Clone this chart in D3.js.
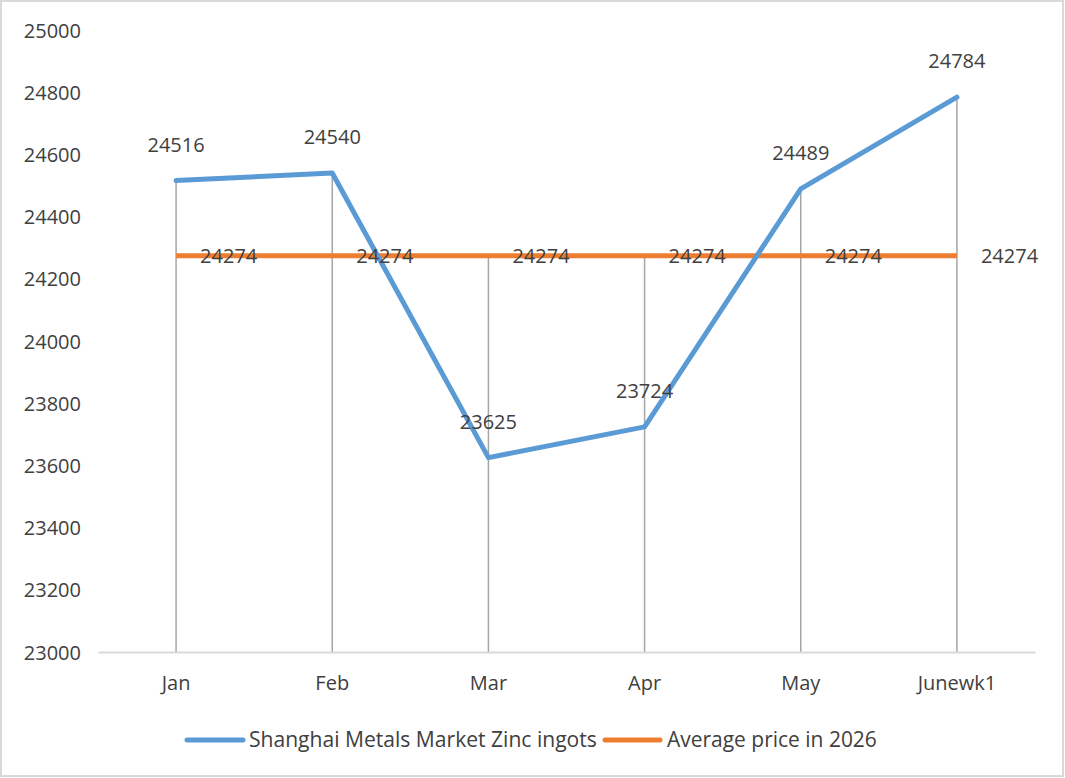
<!DOCTYPE html>
<html><head><meta charset="utf-8">
<script src="https://cdn.jsdelivr.net/npm/d3@7"></script>
<style>body{margin:0;background:#fff}svg{display:block}text{font-family:"Open Sans",sans-serif;fill:#404040}</style>
</head><body>
<svg id="c" width="1065" height="778"></svg>
<script>
const categories = ["Jan","Feb","Mar","Apr","May","Junewk1"];
const zincValues = [24516,24540,23625,23724,24489,24784];
const averageValues = [24274,24274,24274,24274,24274,24274];
const yTicks = [23000,23200,23400,23600,23800,24000,24200,24400,24600,24800,25000];
const seriesNames = ["Shanghai Metals Market Zinc ingots","Average price in 2026"];
const colors = ["#5B9BD5","#ED7D31"];

const svg = d3.select("#c");
svg.append("rect").attr("x",1).attr("y",1).attr("width",1062).attr("height",775)
  .attr("fill","#fff").attr("stroke","#D9D9D9").attr("stroke-width",2);

const x = d3.scaleBand().domain(categories).range([98,1035]);
const y = d3.scaleLinear().domain([23000,25000]).range([652,30]);
const cx = d => x(d) + x.bandwidth()/2;

// y axis labels
const yAxis = d3.axisLeft(y).tickValues(yTicks).tickSize(0).tickPadding(0).tickFormat(d3.format("d"));
const ya = svg.append("g").attr("transform","translate(81,0)").call(yAxis);
ya.select(".domain").remove();
ya.selectAll("text").attr("font-size",20).style("font-family",'"Open Sans",sans-serif').attr("fill","#595959").attr("dy","0.35em");

// drop lines
svg.append("g").selectAll("line").data(categories).join("line")
  .attr("x1",cx).attr("x2",cx)
  .attr("y1",(d,i)=>y(Math.max(zincValues[i],averageValues[i])))
  .attr("y2",y(23000))
  .attr("stroke","#A5A5A5").attr("stroke-width",1.5);

// x axis
const xAxis = d3.axisBottom(x).tickSize(0).tickPadding(0);
const xa = svg.append("g").attr("transform",`translate(0,${y(23000)})`).call(xAxis);
xa.select(".domain").attr("stroke","#D9D9D9").attr("stroke-width",2);
xa.selectAll("text").attr("font-size",20).style("font-family",'"Open Sans",sans-serif').attr("fill","#595959").attr("y",31).attr("dy","0.35em");

const line = d3.line().x((d,i)=>cx(categories[i])).y(d=>y(d));
svg.append("path").datum(averageValues).attr("d",line).attr("fill","none")
  .attr("stroke",colors[1]).attr("stroke-width",5);
svg.append("path").datum(zincValues).attr("d",line).attr("fill","none")
  .attr("stroke",colors[0]).attr("stroke-width",5).attr("stroke-linejoin","round").attr("stroke-linecap","round");

// labels
svg.append("g").selectAll("text").data(zincValues).join("text")
  .attr("x",(d,i)=>cx(categories[i])).attr("y",d=>y(d)-36)
  .attr("text-anchor","middle").attr("dy","0.35em").attr("font-size",20).text(d=>d);
svg.append("g").selectAll("text").data(averageValues).join("text")
  .attr("x",(d,i)=>cx(categories[i])+24).attr("y",d=>y(d))
  .attr("dy","0.35em").attr("font-size",20).text(d=>d);

// legend
const lg = svg.append("g");
const legendItems = [{x1:187,x2:243,tx:249,tw:348},{x1:605,x2:660,tx:667,tw:210}];
legendItems.forEach((it,i)=>{
  lg.append("line").attr("x1",it.x1).attr("x2",it.x2).attr("y1",740).attr("y2",740)
    .attr("stroke",colors[i]).attr("stroke-width",5).attr("stroke-linecap","round");
  const t = lg.append("text").attr("x",it.tx).attr("y",740).attr("dy","0.35em")
    .attr("font-size",20).attr("fill","#595959").text(seriesNames[i]);
  const w = t.node().getComputedTextLength();
  t.attr("font-size",20*it.tw/w);
});
</script>
</body></html>
